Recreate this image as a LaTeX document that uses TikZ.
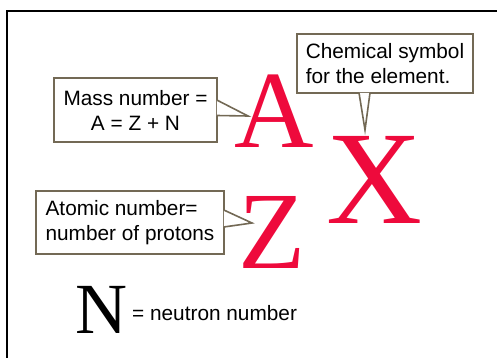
\documentclass[tikz,border=0pt]{standalone}
\usepackage{fontspec}
\setmainfont{Liberation Sans}
\newfontfamily\symfont{Liberation Serif}
\usetikzlibrary{calc}
\definecolor{symred}{RGB}{238,10,60}
\definecolor{boxline}{RGB}{115,105,85}

\begin{document}
\begin{tikzpicture}[
    x=1pt, y=-1pt,
    callbox/.style={draw=boxline, line width=1.6pt, inner xsep=8pt, inner ysep=0pt,
                    font=\fontsize{20.8}{25}\selectfont},
    pointer/.style={fill=white, draw=boxline, line width=1.6pt, line join=miter},
    bigsym/.style={font=\symfont\fontsize{#1}{#1}\selectfont, text=symred,
                   inner sep=0pt, anchor=base},
    frame/.style={line width=2pt}
]
\useasboundingbox (0,0) rectangle (497,358);
\draw[frame] (7,358) -- (7,11) -- (497,11);

\node[bigsym=110] (A) at (274,148) {A};
\node[bigsym=133] (X) at (375,223) {X};
\node[bigsym=110] (Z) at (272.5,268) {Z};
\node[bigsym=72, text=black] (N) at (101.5,333) {N};
\node[anchor=base west, inner sep=0pt, font=\fontsize{20.8}{25}\selectfont]
    (neutron) at (132,320) {= neutron number};

\coordinate (tipA) at (248,116);
\coordinate (tipX) at (365,130);
\coordinate (tipZ) at (252,223);

\node[callbox, minimum width=163pt, minimum height=64pt, align=center]
    (mass) at (135.5,110) {Mass number =\\A = Z + N};
\node[callbox, minimum width=176pt, minimum height=59pt, align=left]
    (chem) at (385,63.5) {Chemical symbol\\for the element.};
\node[callbox, minimum width=188pt, minimum height=63pt, align=left]
    (atomic) at (130,222.5) {Atomic number=\\number of protons};

\filldraw[pointer] ($(mass.east)+(-1,-10)$) -- (tipA) -- ($(mass.east)+(-1,5.5)$);
\filldraw[pointer] ($(chem.south)+(-26,-1)$) -- (tipX) -- ($(chem.south)+(-15,-1)$);
\filldraw[pointer] ($(atomic.east)+(-1,-12.5)$) -- (tipZ) -- ($(atomic.east)+(-1,4.5)$);
\end{tikzpicture}
\end{document}
